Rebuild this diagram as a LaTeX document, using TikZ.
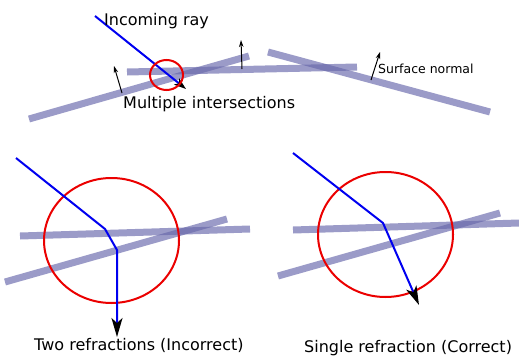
\documentclass[tikz,border=0pt]{standalone}
\usepackage{fontspec}
\setmainfont{DejaVu Sans}
\usetikzlibrary{arrows.meta,shapes.geometric}
\definecolor{surf}{RGB}{102,102,170}
\definecolor{rayblue}{RGB}{0,0,240}
\definecolor{circred}{RGB}{235,0,0}
\tikzset{
  surface/.style={draw=surf, draw opacity=0.65, line width=7pt},
  ray/.style={draw=rayblue, line width=2pt},
  bigtip/.style={-{Stealth[black,length=19pt,width=11pt,inset=5pt]}},
  smalltip/.style={-{Stealth[black,length=12pt,width=8pt,inset=3pt]}},
  normal/.style={draw=black, line width=1pt, -{Stealth[length=7pt,width=4.5pt]}},
  zone/.style={draw=circred, line width=2pt},
  biglabel/.style={font=\fontsize{16}{19}\selectfont, inner sep=0pt, anchor=base west},
  smalllabel/.style={font=\fontsize{12.5}{15}\selectfont, inner sep=0pt, anchor=base west}
}
\begin{document}
\begin{tikzpicture}[x=1pt,y=-1pt]
\useasboundingbox (0,0) rectangle (519,359);
% ---------- top panel ----------
\coordinate (a1) at (29,119); \coordinate (a2) at (249,56);
\coordinate (b1) at (127,72); \coordinate (b2) at (357,67);
\coordinate (c1) at (268,52); \coordinate (c2) at (490,112);
\draw[surface] (a1) -- (a2);
\draw[surface] (b1) -- (b2);
\draw[surface] (c1) -- (c2);
\coordinate (n1s) at (122,93); \coordinate (n1e) at (114,66);
\coordinate (n2s) at (242,69); \coordinate (n2e) at (241,40);
\coordinate (n3s) at (371,80); \coordinate (n3e) at (380,52);
\draw[normal] (n1s) -- (n1e);
\draw[normal] (n2s) -- (n2e);
\draw[normal] (n3s) -- (n3e);
\coordinate (r0) at (95,16); \coordinate (r1) at (186,89);
\draw[ray, smalltip] (r0) -- (r1);
\node[zone, ellipse, minimum width=33pt, minimum height=30pt, inner sep=0pt] (hit) at (166.5,75) {};
\node[biglabel] (lin) at (104,25) {Incoming ray};
\node[biglabel] (lmi) at (123,108) {Multiple intersections};
\node[smalllabel] (lsn) at (378,73) {Surface normal};
% ---------- bottom left ----------
\coordinate (d1) at (20,236); \coordinate (d2) at (250,229);
\coordinate (e1) at (5,282); \coordinate (e2) at (227,219);
\draw[surface] (d1) -- (d2);
\draw[surface] (e1) -- (e2);
\node[zone, ellipse, minimum width=135pt, minimum height=125pt, inner sep=0pt] (zl) at (111.5,240.5) {};
\coordinate (p0) at (16,158); \coordinate (p1) at (105,229);
\coordinate (p2) at (117,250); \coordinate (p3) at (117,337);
\draw[ray, bigtip] (p0) -- (p1) -- (p2) -- (p3);
\node[biglabel] (ltwo) at (34,350) {Two refractions (Incorrect)};
% ---------- bottom right ----------
\coordinate (f1) at (293,230); \coordinate (f2) at (519,223);
\coordinate (g1) at (278,276); \coordinate (g2) at (500,213);
\draw[surface] (f1) -- (f2);
\draw[surface] (g1) -- (g2);
\node[zone, ellipse, minimum width=135pt, minimum height=125pt, inner sep=0pt] (zr) at (385.5,234.5) {};
\coordinate (q0) at (293,153); \coordinate (q1) at (383,223);
\coordinate (q2) at (419,305);
\draw[ray, bigtip] (q0) -- (q1) -- (q2);
\node[biglabel] (lone) at (304,352) {Single refraction (Correct)};
\end{tikzpicture}
\end{document}
